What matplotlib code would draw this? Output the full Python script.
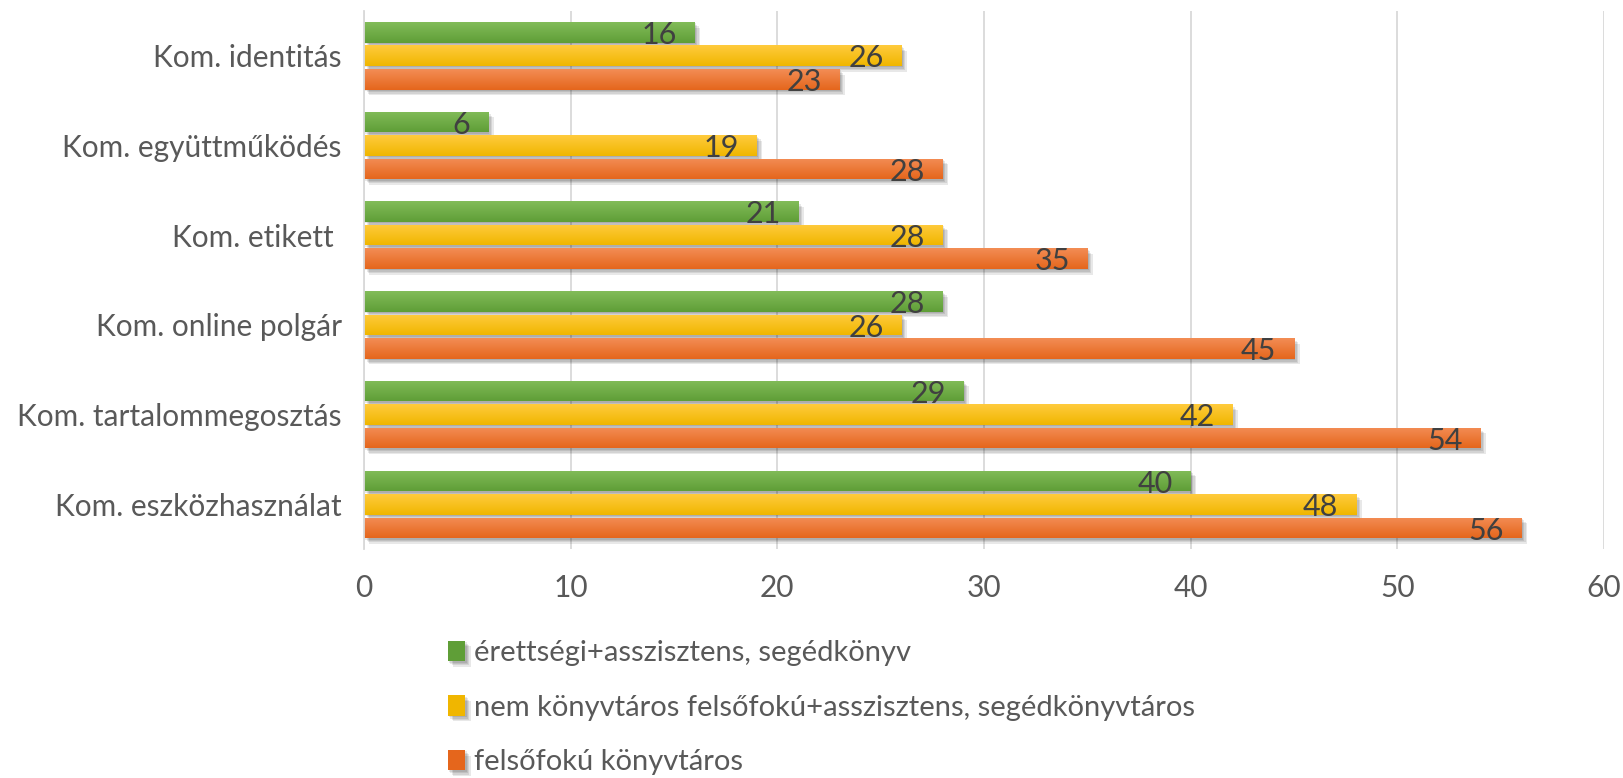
import matplotlib.pyplot as plt
import matplotlib.patheffects as pe
import numpy as np
from matplotlib.colors import LinearSegmentedColormap

plt.rcParams["font.family"] = ["Lato", "DejaVu Sans"]

categories = [
    "Kom. identitás",
    "Kom. együttműködés",
    "Kom. etikett ",
    "Kom. online polgár",
    "Kom. tartalommegosztás",
    "Kom. eszközhasználat",
]
series_names = [
    "érettségi+asszisztens, segédkönyv",
    "nem könyvtáros felsőfokú+asszisztens, segédkönyvtáros",
    "felsőfokú könyvtáros",
]
green_vals = [16, 6, 21, 28, 29, 40]
yellow_vals = [26, 19, 28, 26, 42, 48]
orange_vals = [23, 28, 35, 45, 54, 56]

# (light top, dark bottom) for the Excel-like gradient
shades = [
    ("#82BC59", "#5F9E37"),
    ("#FFCB3D", "#F0B600"),
    ("#F38D55", "#E5661C"),
]

fig = plt.figure(figsize=(16.24, 7.78), dpi=100)
ax = fig.add_axes([0.2241, 0.294, 0.7636, 0.692])

y = np.arange(len(categories))
bar_h = 0.229
step = 0.262
grey_text = "#595959"

# soft drop shadow, built from a few offset layers
shadow = [pe.SimplePatchShadow(offset=(d, -d), shadow_rgbFace="#000000", alpha=0.09)
          for d in (1, 2, 3, 4)] + [pe.Normal()]

for i, (vals, name, (c_top, c_bot)) in enumerate(
        zip([green_vals, yellow_vals, orange_vals], series_names, shades)):
    offs = (i - 1) * step
    bars = ax.barh(y + offs, vals, height=bar_h, color=c_bot, label=name,
                   zorder=3, path_effects=shadow)
    cmap = LinearSegmentedColormap.from_list(f"g{i}", [c_top, c_bot])
    grad = np.linspace(0, 1, 64).reshape(-1, 1)
    for b in bars:
        x0, y0 = b.get_x(), b.get_y()
        w, h = b.get_width(), b.get_height()
        im = ax.imshow(grad, cmap=cmap, aspect="auto", origin="upper",
                       extent=(x0, x0 + w, y0 + h, y0), zorder=3.5,
                       interpolation="bilinear")
        im.set_clip_path(b)
    for yy, v in zip(y + offs, vals):
        ax.text(v - 0.85, yy + 0.03, str(v), ha="right", va="center",
                fontsize=22, color="#404040", zorder=5)

ax.set_xlim(0, 60)
ax.set_ylim(len(categories) - 0.5, -0.5)
ax.set_xticks(np.arange(0, 61, 10))
ax.set_yticks(y)
ax.set_yticklabels(categories)
ax.tick_params(axis="y", length=0, pad=16, labelsize=21.5, labelcolor=grey_text)
ax.tick_params(axis="x", length=0, pad=18, labelsize=21.5, labelcolor=grey_text)
ax.grid(axis="x", color="#D9D9D9", linewidth=1.3, zorder=0)
for s in ["top", "right", "bottom"]:
    ax.spines[s].set_visible(False)
ax.spines["left"].set_color("#D9D9D9")
ax.spines["left"].set_linewidth(1.3)
ax.spines["left"].set_zorder(4)

leg = ax.legend(loc="upper left", bbox_to_anchor=(0.2685, 0.192),
                bbox_transform=fig.transFigure, frameon=False,
                fontsize=21, handlelength=0.6, handleheight=0.7,
                handletextpad=0.3, labelspacing=0.98, borderaxespad=0)
for t in leg.get_texts():
    t.set_color(grey_text)

fig.savefig("out.png", dpi=100)
